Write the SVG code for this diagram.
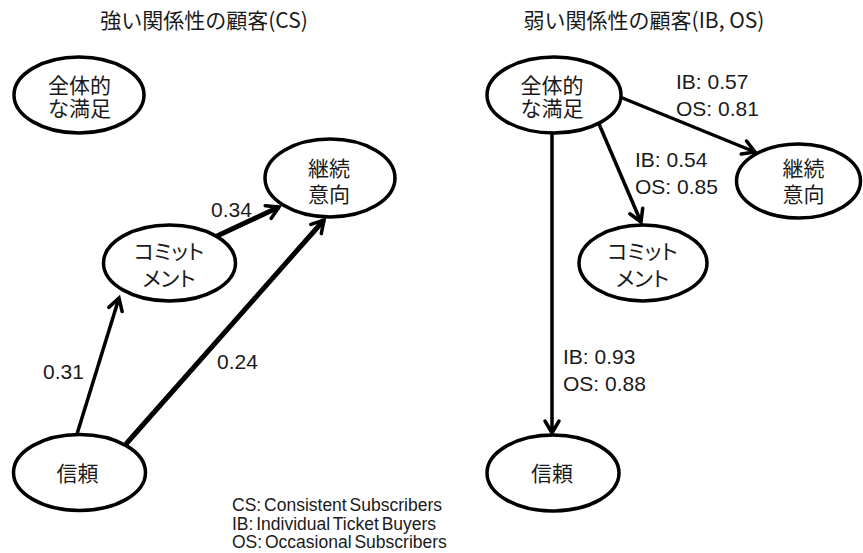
<svg xmlns="http://www.w3.org/2000/svg" width="863" height="553" viewBox="0 0 863 553">
<style>
.node ellipse{fill:#fff;stroke:#000;stroke-width:3.5}
.jp{font-family:"Noto Sans CJK JP","Noto Sans",sans-serif;font-size:21px;fill:#1a1a1a;text-anchor:middle}
.kana{font-feature-settings:"palt"}
.title{font-family:"Noto Sans CJK JP","Noto Sans",sans-serif;font-size:21px;fill:#1a1a1a;text-anchor:middle}
.lbl{font-family:"Liberation Sans",Arial,sans-serif;font-size:21px;fill:#1a1a1a}
.legend{font-family:"Liberation Sans",Arial,sans-serif;font-size:17.5px;fill:#1a1a1a;word-spacing:-2px}
.edge{stroke:#000;fill:none;marker-end:url(#arr)}
</style>
<defs>
<marker id="arr" markerUnits="userSpaceOnUse" viewBox="-16 -10 20 20" refX="0" refY="0" markerWidth="20" markerHeight="20" orient="auto" overflow="visible">
<path d="M-12,-7 L0,0 L-12,7" fill="none" stroke="#000" stroke-width="3.5" stroke-linejoin="miter" stroke-linecap="round"/>
</marker>
</defs>
<rect width="863" height="553" fill="#fff"/>
<text class="title" x="204" y="28">強い関係性の顧客(CS)</text>
<text class="title" x="644" y="28">弱い関係性の顧客(IB, OS)</text>

<g id="connectors">
<line class="edge" x1="77" y1="434" x2="119" y2="298" stroke-width="3.5"/>
<line class="edge" x1="126" y1="444" x2="324" y2="220" stroke-width="5"/>
<line class="edge" x1="217" y1="236" x2="279" y2="207" stroke-width="5"/>
<line class="edge" x1="552" y1="133" x2="552" y2="433" stroke-width="3.5"/>
<line class="edge" x1="599" y1="124" x2="641" y2="222" stroke-width="3.5"/>
<line class="edge" x1="620" y1="97" x2="755" y2="152" stroke-width="3.5"/>
<text class="lbl" x="211" y="217">0.34</text>
<text class="lbl" x="43" y="379">0.31</text>
<text class="lbl" x="217" y="369">0.24</text>
<text class="lbl" x="676" y="89">IB: 0.57</text>
<text class="lbl" x="676" y="116">OS: 0.81</text>
<text class="lbl" x="635" y="167">IB: 0.54</text>
<text class="lbl" x="635" y="194">OS: 0.85</text>
<text class="lbl" x="563" y="364">IB: 0.93</text>
<text class="lbl" x="563" y="391">OS: 0.88</text>
</g>

<g id="L_satisfaction" class="node">
<ellipse cx="79" cy="95" rx="65" ry="38"/>
<text class="jp" x="79.5" y="93">全体的</text>
<text class="jp" x="79.5" y="116">な満足</text>
</g>
<g id="L_intention" class="node">
<ellipse cx="330" cy="178" rx="65" ry="39"/>
<text class="jp" x="329" y="176">継続</text>
<text class="jp" x="329" y="202">意向</text>
</g>
<g id="L_commitment" class="node">
<ellipse cx="169.5" cy="263" rx="66" ry="38"/>
<text class="jp kana" x="169" y="259">コミット</text>
<text class="jp kana" x="169" y="286">メント</text>
</g>
<g id="L_trust" class="node">
<ellipse cx="79.5" cy="472.5" rx="66" ry="38"/>
<text class="jp" x="77.5" y="481">信頼</text>
</g>

<g id="R_satisfaction" class="node">
<ellipse cx="554" cy="95" rx="67" ry="38"/>
<text class="jp" x="552" y="93">全体的</text>
<text class="jp" x="552" y="116">な満足</text>
</g>
<g id="R_intention" class="node">
<ellipse cx="798.5" cy="181" rx="62" ry="37"/>
<text class="jp" x="803.5" y="176">継続</text>
<text class="jp" x="803.5" y="202">意向</text>
</g>
<g id="R_commitment" class="node">
<ellipse cx="643" cy="263" rx="64" ry="38"/>
<text class="jp kana" x="642.5" y="259">コミット</text>
<text class="jp kana" x="642.5" y="286">メント</text>
</g>
<g id="R_trust" class="node">
<ellipse cx="553" cy="473" rx="66" ry="38"/>
<text class="jp" x="552" y="481">信頼</text>
</g>

<g id="legend">
<text class="legend" x="232" y="511">CS: Consistent Subscribers</text>
<text class="legend" x="232" y="530">IB: Individual Ticket Buyers</text>
<text class="legend" x="232" y="548">OS: Occasional Subscribers</text>
</g>
</svg>
